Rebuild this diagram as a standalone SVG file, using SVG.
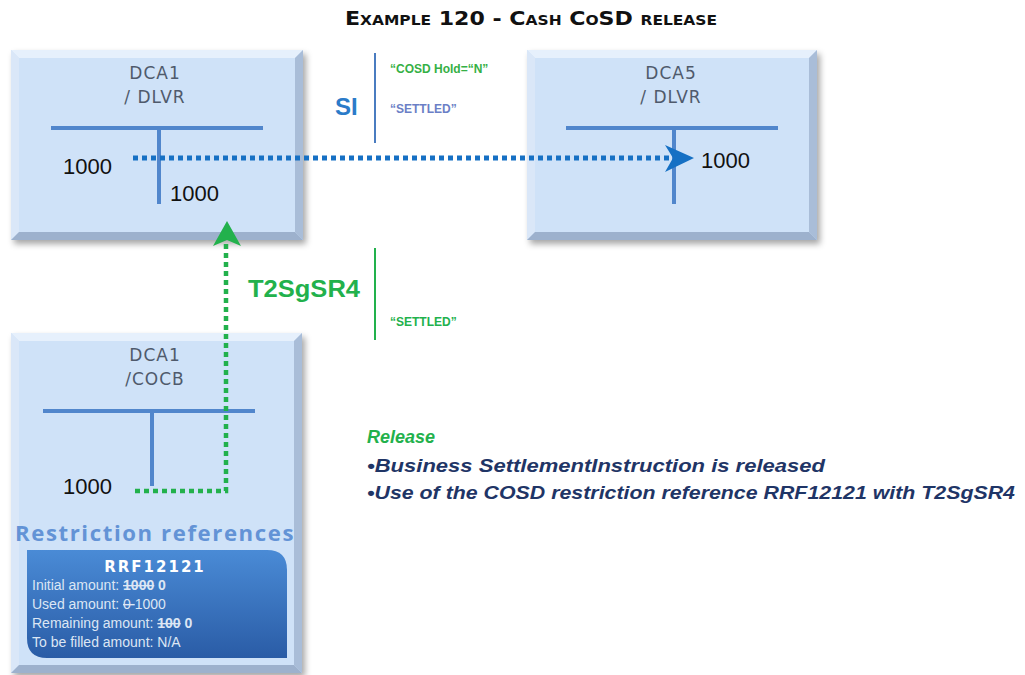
<svg xmlns="http://www.w3.org/2000/svg" width="1025" height="675" viewBox="0 0 1025 675">
<style>
.title{font-family:"DejaVu Sans","Liberation Sans",sans-serif;font-weight:bold;font-variant:small-caps;fill:#111;}
.hdr{font-family:"DejaVu Sans","Liberation Sans",sans-serif;font-size:17px;fill:#4f5a6c;letter-spacing:1px;}
.num{font-family:"Liberation Sans",Arial,sans-serif;font-size:22px;fill:#111;}
.tline{stroke:#5186cc;stroke-width:4;fill:none;}
.face{fill:#cfe2f8;}
.bt{fill:#e6f0fc;}
.bl{fill:#dae7f8;}
.br{fill:#a9bdd8;}
.bb{fill:#9db1cd;}
.small{font-family:"Liberation Sans",Arial,sans-serif;font-size:12px;font-weight:bold;}
.rr{font-family:"Liberation Sans",Arial,sans-serif;font-size:14px;fill:#dce6f4;}
.rel{font-family:"Liberation Sans",Arial,sans-serif;font-size:18px;font-style:italic;font-weight:bold;fill:#1f3566;}
</style>
<defs>
<filter id="sh" x="-10%" y="-10%" width="125%" height="125%">
<feDropShadow dx="3" dy="4" stdDeviation="3" flood-color="#000" flood-opacity="0.35"/>
</filter>
<linearGradient id="rg" x1="0" y1="0" x2="0" y2="1">
<stop offset="0" stop-color="#4a8bd6"/>
<stop offset="1" stop-color="#2a5ca6"/>
</linearGradient>
</defs>
<rect width="1025" height="675" fill="#fff"/>
<text class="title" x="531" y="25" font-size="20" text-anchor="middle" textLength="372" lengthAdjust="spacingAndGlyphs">Example 120 - Cash CoSD release</text>

<g id="dca1-dlvr">
<g filter="url(#sh)"><rect x="11" y="50" width="292" height="190" class="face"/></g>
<polygon class="bt" points="11,50 303,50 295,58 19,58"/>
<polygon class="bl" points="11,50 19,58 19,232 11,240"/>
<polygon class="br" points="303,50 303,240 295,232 295,58"/>
<polygon class="bb" points="11,240 303,240 295,232 19,232"/>
<text class="hdr" x="155" y="79" text-anchor="middle">DCA1</text>
<text class="hdr" x="155" y="103" text-anchor="middle">/ DLVR</text>
<line class="tline" x1="51" y1="128" x2="263" y2="128"/>
<line class="tline" x1="159" y1="128" x2="159" y2="204"/>
<text class="num" x="63" y="174">1000</text>
<text class="num" x="170" y="201">1000</text>
</g>

<g id="dca5-dlvr">
<g filter="url(#sh)"><rect x="527" y="50" width="290" height="190" class="face"/></g>
<polygon class="bt" points="527,50 817,50 809,58 535,58"/>
<polygon class="bl" points="527,50 535,58 535,232 527,240"/>
<polygon class="br" points="817,50 817,240 809,232 809,58"/>
<polygon class="bb" points="527,240 817,240 809,232 535,232"/>
<text class="hdr" x="671" y="79" text-anchor="middle">DCA5</text>
<text class="hdr" x="671" y="103" text-anchor="middle">/ DLVR</text>
<line class="tline" x1="566" y1="128" x2="778" y2="128"/>
<line class="tline" x1="674" y1="128" x2="674" y2="204"/>
<text class="num" x="701" y="168">1000</text>
</g>

<g id="dca1-cocb">
<g filter="url(#sh)"><rect x="11" y="333" width="291" height="340" class="face"/></g>
<polygon class="bt" points="11,333 302,333 294,341 19,341"/>
<polygon class="bl" points="11,333 19,341 19,665 11,673"/>
<polygon class="br" points="302,333 302,673 294,665 294,341"/>
<polygon class="bb" points="11,673 302,673 294,665 19,665"/>
<text class="hdr" x="155" y="361" text-anchor="middle">DCA1</text>
<text class="hdr" x="155" y="385" text-anchor="middle">/COCB</text>
<line class="tline" x1="43" y1="411" x2="255" y2="411"/>
<line class="tline" x1="152" y1="411" x2="152" y2="486"/>
<text class="num" x="63" y="494">1000</text>
<text x="155" y="541" text-anchor="middle" font-family="'Open Sans','DejaVu Sans',sans-serif" font-size="21" font-weight="bold" fill="#6393d6" letter-spacing="1.5" textLength="280" lengthAdjust="spacingAndGlyphs">Restriction references</text>
<path d="M27,550 H267 Q287,550 287,570 V658 H47 Q27,658 27,638 Z" fill="url(#rg)"/>
<text x="155" y="572" text-anchor="middle" font-family="'DejaVu Sans',sans-serif" font-size="15" font-weight="bold" fill="#fff" letter-spacing="2">RRF12121</text>
<text class="rr" x="32" y="590">Initial amount: <tspan text-decoration="line-through" font-weight="bold">1000</tspan>  <tspan font-weight="bold">0</tspan></text>
<text class="rr" x="32" y="609">Used amount: <tspan text-decoration="line-through">0 </tspan> 1000</text>
<text class="rr" x="32" y="628">Remaining amount: <tspan text-decoration="line-through" font-weight="bold">100</tspan>  <tspan font-weight="bold">0</tspan></text>
<text class="rr" x="32" y="647">To be filled amount: N/A</text>
</g>

<g id="si-label">
<text x="335" y="115" font-family="'Liberation Sans',Arial,sans-serif" font-size="24" font-weight="bold" fill="#2b7bc9">SI</text>
<line x1="375" y1="53" x2="375" y2="143" stroke="#4a7cc0" stroke-width="2"/>
<text class="small" x="390" y="73" fill="#35b045">“COSD Hold=“N”</text>
<text class="small" x="390" y="113" fill="#6b7fc6">“SETTLED”</text>
</g>

<g id="t2sgsr4-label">
<text x="248" y="297" font-family="'Liberation Sans',Arial,sans-serif" font-size="24" font-weight="bold" fill="#22b14c" textLength="112" lengthAdjust="spacingAndGlyphs">T2SgSR4</text>
<line x1="375" y1="248" x2="375" y2="340" stroke="#22b14c" stroke-width="2"/>
<text class="small" x="390" y="326" fill="#22b14c">“SETTLED”</text>
</g>

<g id="release-note">
<text x="367" y="443" font-family="'Liberation Sans',Arial,sans-serif" font-size="18" font-weight="bold" font-style="italic" fill="#22b14c">Release</text>
<text class="rel" x="367" y="472" textLength="458" lengthAdjust="spacingAndGlyphs">•Business SettlementInstruction is released</text>
<text class="rel" x="367" y="499" textLength="648" lengthAdjust="spacingAndGlyphs">•Use of the COSD restriction reference RRF12121 with T2SgSR4</text>
</g>

<g id="connectors">
<line x1="133" y1="158" x2="672" y2="158" stroke="#1670c4" stroke-width="5" stroke-dasharray="5 4"/>
<polygon points="694,158 665,145 673,158 665,172" fill="#1670c4"/>
<path d="M135,491 H226 V243" fill="none" stroke="#22b14c" stroke-width="4.5" stroke-dasharray="5 4"/>
<polygon points="227,221 241,246 227,240 213,246" fill="#22b14c"/>
</g>
</svg>
